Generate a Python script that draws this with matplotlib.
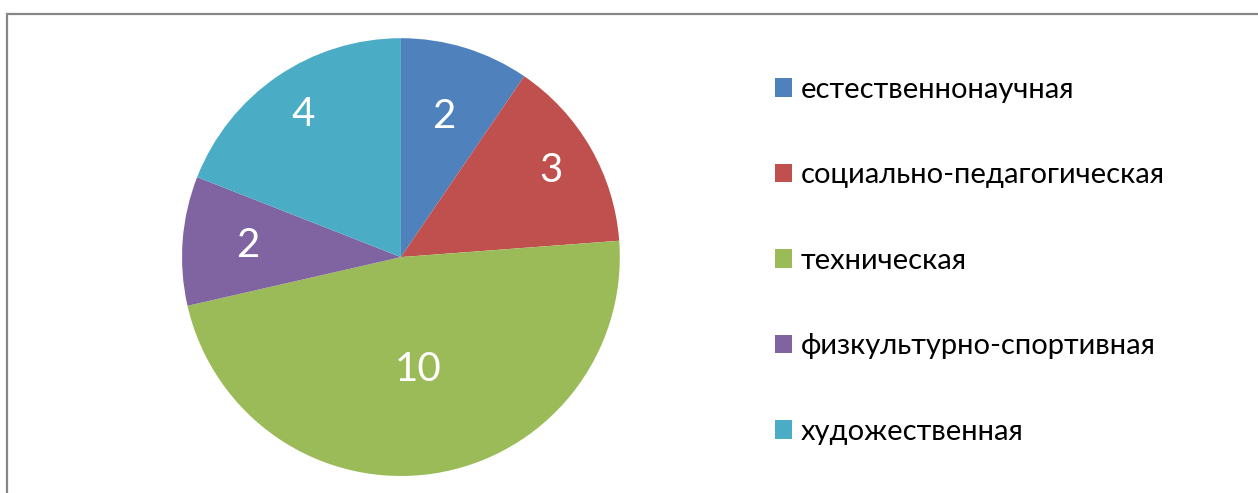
import numpy as np
import matplotlib.pyplot as plt
from matplotlib.patches import Rectangle

plt.rcParams["font.family"] = ["Lato", "DejaVu Sans"]

categories = ["естественнонаучная", "социально-педагогическая", "техническая",
              "физкультурно-спортивная", "художественная"]
values = [2, 3, 10, 2, 4]
COLORS = ["#4F81BD", "#C0504D", "#9BBB59", "#8064A2", "#4BACC6"]
label_radius = [0.67, 0.79, 0.52, 0.70, 0.79]

fig = plt.figure(figsize=(12.58, 4.93), dpi=100)
ax = fig.add_axes([0.1447, 0.0345, 0.348, 0.888])

wedges, _ = ax.pie(values, colors=COLORS, startangle=90, counterclock=False,
                   radius=1.0, wedgeprops=dict(linewidth=0))
for w, v, r in zip(wedges, values, label_radius):
    mid = np.deg2rad((w.theta1 + w.theta2) / 2)
    ax.text(r * np.cos(mid), r * np.sin(mid), str(v), color="white",
            fontsize=29, ha="center", va="center")
ax.set_xlim(-1, 1)
ax.set_ylim(-1, 1)
ax.set_aspect("equal")

fig.legend(wedges, categories, loc="upper left", bbox_to_anchor=(0.607, 0.868),
           frameon=False, fontsize=21, handlelength=0.58, handleheight=0.58,
           handletextpad=0.3, labelspacing=2.04, borderaxespad=0)

# chart area border
fig.patches.append(Rectangle((7 / 1258, -0.1), 1.2, (493 - 14) / 493 + 0.1,
                             transform=fig.transFigure, fill=False,
                             edgecolor="#878787", linewidth=1.6))

fig.savefig("out.png", dpi=100)
